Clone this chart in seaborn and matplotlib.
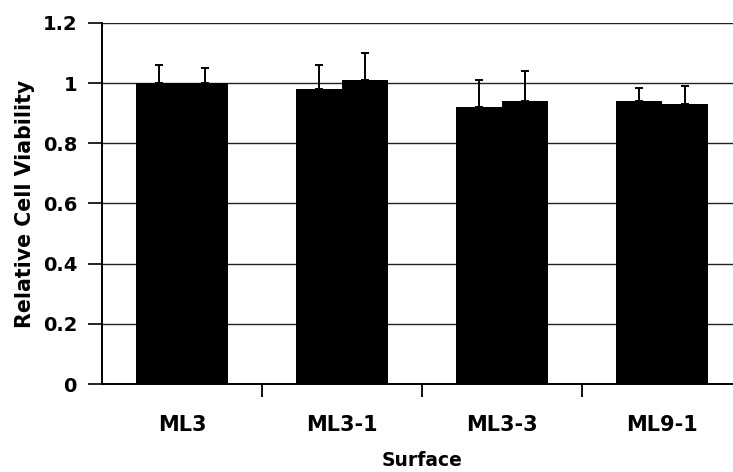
import matplotlib
matplotlib.use("Agg")
import matplotlib.pyplot as plt
import numpy as np
import pandas as pd
import seaborn as sns

# Relative viability per surface, two replicate series with upper SD
surfaces = ["ML3", "ML3-1", "ML3-3", "ML9-1"]
series = ["Series 1", "Series 2"]
viability_1 = [1.00, 0.98, 0.92, 0.94]
viability_2 = [1.00, 1.01, 0.94, 0.93]
sd_1 = [0.06, 0.08, 0.09, 0.045]
sd_2 = [0.05, 0.09, 0.10, 0.06]
y_ticks = [0, 0.2, 0.4, 0.6, 0.8, 1.0, 1.2]
y_tick_labels = ["0", "0.2", "0.4", "0.6", "0.8", "1", "1.2"]

df = pd.DataFrame({
    "Surface": surfaces * 2,
    "Series": [series[0]] * 4 + [series[1]] * 4,
    "Viability": viability_1 + viability_2,
    "SD": sd_1 + sd_2,
})

sns.set_theme(style="white")
plt.rcParams["font.family"] = ["DejaVu Sans"]
plt.rcParams["font.weight"] = "bold"
for key in ["text.color", "axes.labelcolor", "xtick.color", "ytick.color"]:
    plt.rcParams[key] = "black"

fig = plt.figure(figsize=(7.33, 4.72), dpi=100)
ax = fig.add_axes([102 / 733, 88 / 472, 640 / 733, 361 / 472])

sns.barplot(data=df, x="Surface", y="Viability", hue="Series",
            order=surfaces, hue_order=series,
            palette=["black", "black"], width=0.58, errorbar=None,
            saturation=1, edgecolor="black", linewidth=0, ax=ax, zorder=3)
if ax.get_legend() is not None:
    ax.get_legend().remove()

# upper-only error bars placed on each bar
for container, s in zip(ax.containers, series):
    sub = df[df["Series"] == s].set_index("Surface").loc[surfaces]
    xs = [p.get_x() + p.get_width() / 2 for p in container.patches]
    hs = [p.get_height() for p in container.patches]
    ax.errorbar(xs, hs, yerr=[np.zeros(len(hs)), sub["SD"].values],
                fmt="none", ecolor="black", elinewidth=1.4,
                capsize=3, capthick=1.4, zorder=4)

ax.set_xlim(-0.5, 3.5)
ax.set_ylim(0, 1.2)
ax.set_yticks(y_ticks)
ax.set_yticklabels(y_tick_labels, fontsize=14, fontweight="bold")
ax.yaxis.grid(True, color="#222222", linewidth=1.0, zorder=0)
ax.xaxis.grid(False)

# category labels at centres, tick marks at the group boundaries
ax.set_xticks(range(len(surfaces)))
ax.set_xticklabels(surfaces, fontsize=15, fontweight="bold")
ax.set_xticks(np.arange(0.5, len(surfaces) - 0.5, 1), minor=True)
ax.tick_params(axis="x", which="major", length=0, pad=22)
ax.tick_params(axis="x", which="minor", length=9, width=1.3,
               color="black", direction="out", bottom=True)
ax.tick_params(axis="y", which="major", length=10, width=1.2,
               color="black", direction="out", left=True, pad=8)

ax.set_xlabel("Surface", fontsize=13.5, fontweight="bold", labelpad=12)
ax.set_ylabel("Relative Cell Viability", fontsize=14.8, fontweight="bold",
              labelpad=5)

for side in ["top", "right"]:
    ax.spines[side].set_visible(False)
for side in ["left", "bottom"]:
    ax.spines[side].set_color("black")
    ax.spines[side].set_linewidth(1.4)

fig.savefig("out.png", dpi=100, facecolor="white")
